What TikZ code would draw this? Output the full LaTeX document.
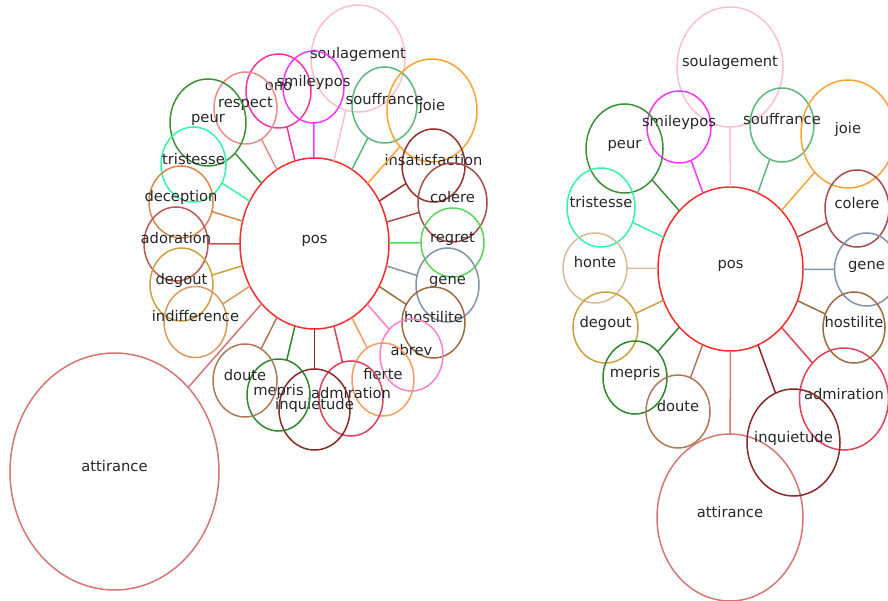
\documentclass[tikz,border=0pt]{standalone}
\usepackage{fontspec}
\setmainfont{DejaVu Sans}
\usetikzlibrary{shapes.geometric}

% node colours
\definecolor{cPos}{HTML}{FF2A2A}
\definecolor{cAtt}{HTML}{D87474}
\definecolor{cSoul}{HTML}{FFC0CB}
\definecolor{cSmile}{HTML}{FF33FF}
\definecolor{cOno}{HTML}{FF3399}
\definecolor{cResp}{HTML}{EE8C8C}
\definecolor{cPeur}{HTML}{3A913A}
\definecolor{cSouf}{HTML}{5CB87E}
\definecolor{cJoie}{HTML}{FFA233}
\definecolor{cTrist}{HTML}{33F5A5}
\definecolor{cInsat}{HTML}{9B2C2C}
\definecolor{cCol}{HTML}{AA4A4A}
\definecolor{cDec}{HTML}{D8884A}
\definecolor{cAdo}{HTML}{C45555}
\definecolor{cDeg}{HTML}{CFA03A}
\definecolor{cIndif}{HTML}{D89A60}
\definecolor{cReg}{HTML}{55D855}
\definecolor{cGene}{HTML}{8394A8}
\definecolor{cHost}{HTML}{A06A40}
\definecolor{cAbr}{HTML}{FF80C4}
\definecolor{cFier}{HTML}{FF9A66}
\definecolor{cAdm}{HTML}{E0405A}
\definecolor{cInq}{HTML}{8B2828}
\definecolor{cMep}{HTML}{2E882E}
\definecolor{cDout}{HTML}{B07858}
\definecolor{cHonte}{HTML}{D8BC98}
\definecolor{txt}{HTML}{262626}

\tikzset{
  bub/.style={ellipse, inner sep=0pt, outer sep=0pt, line width=1.5pt},
  lab/.style={anchor=base, inner sep=0pt, text=txt,
              font=\fontsize{14.7}{17}\selectfont},
  edge/.style={line width=1.5pt}
}

% \bubble{name}{x}{y}{rx}{ry}{colour}{text}
\newcommand\bubble[7]{%
  \node[bub, draw=#6, minimum width={2*#4pt}, minimum height={2*#5pt}] (#1) at (#2,#3) {};
  \node[lab] (#1-t) at (#1.center) {#7};
}
% \spoke{hub}{leaf}{colour}
\newcommand\spoke[3]{\draw[edge, draw=#3] (#1) -- (#2);}

\begin{document}
\begin{tikzpicture}[x=1pt, y=-1pt]
\useasboundingbox (0,0) rectangle (888,601);
\clip (0,0) rectangle (888,601);

% ---------- left star ----------
\bubble{Lpos}{314.5}{243.5}{74.5}{85.5}{cPos}{pos}
\bubble{Latt}{114.5}{471.5}{104.5}{118.5}{cAtt}{attirance}
\bubble{Lsoul}{358}{58.5}{47}{53.5}{cSoul}{soulagement}
\bubble{Lono}{278.5}{91}{32.5}{37}{cOno}{ono}
\bubble{Lsmile}{313.5}{87}{30.5}{36}{cSmile}{smileypos}
\bubble{Lresp}{245.5}{108}{31.5}{36}{cResp}{respect}
\bubble{Lpeur}{208}{122.5}{38}{43.5}{cPeur}{peur}
\bubble{Lsouf}{384.5}{105}{32.5}{38}{cSouf}{souffrance}
\bubble{Ljoie}{432}{110.5}{45}{51.5}{cJoie}{joie}
\bubble{Ltrist}{193.5}{164.5}{32.5}{37.5}{cTrist}{tristesse}
\bubble{Linsat}{433.5}{165.5}{31.5}{36.5}{cInsat}{insatisfaction}
\bubble{Lcol}{452.5}{202.5}{34.5}{39.5}{cCol}{colere}
\bubble{Ldec}{181}{202}{32}{36}{cDec}{deception}
\bubble{Lado}{176}{244}{32}{37}{cAdo}{adoration}
\bubble{Ldeg}{181.5}{284.5}{31.5}{36.5}{cDeg}{degout}
\bubble{Lindif}{195.5}{322}{31.5}{35.5}{cIndif}{indifference}
\bubble{Lreg}{452.5}{242.5}{31.5}{34.5}{cReg}{regret}
\bubble{Lgene}{447.5}{285}{31.5}{37}{cGene}{gene}
\bubble{Lhost}{433.5}{322.5}{31.5}{35.5}{cHost}{hostilite}
\bubble{Labr}{411.5}{355}{31.5}{36}{cAbr}{abrev}
\bubble{Lfier}{383}{379.5}{31}{36.5}{cFier}{fierte}
\bubble{Ladm}{351}{398.5}{32}{37.5}{cAdm}{admiration}
\bubble{Linq}{314.5}{409.5}{35.5}{40.5}{cInq}{inquietude}
\bubble{Lmep}{278.5}{395}{31.5}{36}{cMep}{mepris}
\bubble{Ldout}{245}{380.5}{32}{36.5}{cDout}{doute}

\foreach \n/\c in {Latt/cAtt, Lsoul/cSoul, Lono/cOno, Lsmile/cSmile, Lresp/cResp,
  Lpeur/cPeur, Lsouf/cSouf, Ljoie/cJoie, Ltrist/cTrist, Linsat/cInsat, Lcol/cCol,
  Ldec/cDec, Lado/cAdo, Ldeg/cDeg, Lindif/cIndif, Lreg/cReg, Lgene/cGene,
  Lhost/cHost, Labr/cAbr, Lfier/cFier, Ladm/cAdm, Linq/cInq, Lmep/cMep, Ldout/cDout}
  {\spoke{Lpos}{\n}{\c}}

% ---------- right star ----------
\bubble{Rpos}{730.5}{269}{72.5}{82}{cPos}{pos}
\bubble{Ratt}{730}{517.5}{73}{83.5}{cAtt}{attirance}
\bubble{Rsoul}{730}{67}{53}{60}{cSoul}{soulagement}
\bubble{Rsmile}{679}{127}{32}{36}{cSmile}{smileypos}
\bubble{Rpeur}{624.5}{148.5}{38.5}{44.5}{cPeur}{peur}
\bubble{Rsouf}{782}{125}{32}{37}{cSouf}{souffrance}
\bubble{Rjoie}{848}{134}{47}{54}{cJoie}{joie}
\bubble{Rtrist}{601}{207.5}{34}{39.5}{cTrist}{tristesse}
\bubble{Rcol}{857}{208.5}{32}{38.5}{cCol}{colere}
\bubble{Rhonte}{595}{268}{32}{35}{cHonte}{honte}
\bubble{Rgene}{866.5}{269.5}{32}{36.5}{cGene}{gene}
\bubble{Rdeg}{605.5}{327.5}{32.5}{35.5}{cDeg}{degout}
\bubble{Rhost}{854}{327.5}{31}{35.5}{cHost}{hostilite}
\bubble{Rmep}{635}{377.5}{32}{36.5}{cMep}{mepris}
\bubble{Rdout}{678}{411.5}{32}{36.5}{cDout}{doute}
\bubble{Radm}{844}{399}{44.5}{51}{cAdm}{admiration}
\bubble{Rinq}{793.5}{442.5}{46.5}{53.5}{cInq}{inquietude}

\foreach \n/\c in {Ratt/cAtt, Rsoul/cSoul, Rsmile/cSmile, Rpeur/cPeur, Rsouf/cSouf,
  Rjoie/cJoie, Rtrist/cTrist, Rcol/cCol, Rhonte/cHonte, Rgene/cGene, Rdeg/cDeg,
  Rhost/cHost, Rmep/cMep, Rdout/cDout, Radm/cAdm, Rinq/cInq}
  {\spoke{Rpos}{\n}{\c}}
\end{tikzpicture}
\end{document}
